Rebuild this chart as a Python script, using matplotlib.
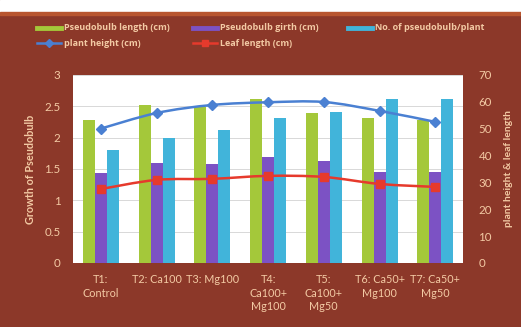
import matplotlib
matplotlib.use("Agg")
import matplotlib.pyplot as plt
import numpy as np
from matplotlib.lines import Line2D
from matplotlib.path import Path
from matplotlib.patches import PathPatch

treatments = ["T1:\nControl", "T2: Ca100", "T3: Mg100", "T4:\nCa100+\nMg100",
              "T5:\nCa100+\nMg50", "T6: Ca50+\nMg100", "T7: Ca50+\nMg50"]
pb_length = [2.28, 2.52, 2.48, 2.62, 2.39, 2.31, 2.28]
pb_girth = [1.43, 1.60, 1.58, 1.69, 1.63, 1.45, 1.45]
pb_number = [1.80, 2.00, 2.12, 2.31, 2.41, 2.62, 2.62]
plant_height = [50.0, 55.8, 58.8, 59.8, 59.9, 56.6, 52.5]
leaf_length = [27.5, 30.9, 31.3, 32.4, 32.0, 29.4, 28.3]

BG = "#8c3829"
TXT = "#f3caa4"
GREEN = "#a4c83a"
PURPLE = "#7c52c4"
CYAN = "#41b4da"
BLUE = "#4a80d2"
RED = "#e63a2c"

W, H = 521, 327
plt.rcParams["font.family"] = ["Lato", "DejaVu Sans"]


def smooth_path(xs, ys):
    # Catmull-Rom style bezier through the points (like a smoothed Excel line)
    pts = np.column_stack([xs, ys]).astype(float)
    ext = np.vstack([pts[0], pts, pts[-1]])
    verts = [pts[0]]
    codes = [Path.MOVETO]
    for i in range(len(pts) - 1):
        p0, p1, p2, p3 = ext[i], ext[i + 1], ext[i + 2], ext[i + 3]
        verts += [p1 + (p2 - p0) / 6, p2 - (p3 - p1) / 6, p2]
        codes += [Path.CURVE4] * 3
    return Path(verts, codes)


fig = plt.figure(figsize=(W / 100, H / 100), dpi=100)
fig.patch.set_facecolor(BG)

# white strip above the chart frame
fig.add_artist(plt.Rectangle((0, 1 - 12 / H), 1, 12 / H,
                             transform=fig.transFigure, color="white", zorder=0))
fig.add_artist(plt.Rectangle((0, 1 - 15 / H), 1, 3 / H,
                             transform=fig.transFigure, color="#b8552f", zorder=0))

ax = fig.add_axes([0.140, 0.196, 0.749, 0.575])
ax.set_facecolor("white")
x = np.arange(len(treatments))
w = 0.215
ax.bar(x - w, pb_length, w, color=GREEN, zorder=2)
ax.bar(x, pb_girth, w, color=PURPLE, zorder=2)
ax.bar(x + w, pb_number, w, color=CYAN, zorder=2)
ax.set_xlim(-0.5, len(treatments) - 0.5)
ax.set_ylim(0, 3)
ax.set_yticks(np.arange(0, 3.01, 0.5))
ax.set_yticklabels(["0", "0.5", "1", "1.5", "2", "2.5", "3"])
ax.yaxis.grid(True, color="#d8d8d8", lw=0.7, zorder=0)
ax.set_xticks(x)
ax.set_xticklabels(treatments, fontsize=7.8, color=TXT, linespacing=1.3,
                   va="top")
ax.tick_params(axis="x", length=0, pad=8)
ax.tick_params(axis="y", length=0, colors=TXT, labelsize=8.3, pad=9)
for s in ax.spines.values():
    s.set_visible(False)
ax.set_ylabel("Growth of Pseudobulb", color=TXT, fontsize=7.8,
              fontweight="bold", labelpad=6)

ax2 = ax.twinx()
for vals, col, mk, ms in [(plant_height, BLUE, "D", 5),
                          (leaf_length, RED, "s", 5.5)]:
    ax2.add_patch(PathPatch(smooth_path(x, vals), fill=False, edgecolor=col,
                            lw=1.8, zorder=3))
    ax2.plot(x, vals, ls="none", color=col, marker=mk, ms=ms, zorder=4)
ax2.set_ylim(0, 70)
ax2.set_yticks(np.arange(0, 71, 10))
ax2.tick_params(axis="y", length=0, colors=TXT, labelsize=8.3, pad=11)
for s in ax2.spines.values():
    s.set_visible(False)
ax2.set_ylabel("plant height & leaf length", color=TXT, fontsize=7.5,
               fontweight="bold", labelpad=9)

# legend laid out on a fixed grid: three equal-width columns, two rows
legend_items = [
    ("Pseudobulb length (cm)", dict(color=GREEN, lw=3.5), 0, 0),
    ("Pseudobulb girth (cm)", dict(color=PURPLE, lw=3.5), 1, 0),
    ("No. of pseudobulb/plant", dict(color=CYAN, lw=3.5), 2, 0),
    ("plant height (cm)", dict(color=BLUE, lw=1.8, marker="D", ms=4,
                               markevery=[1]), 0, 1),
    ("Leaf length (cm)", dict(color=RED, lw=1.8, marker="s", ms=4,
                              markevery=[1]), 1, 1),
]
col_x = [37, 193, 348]
row_y = [28, 43]
for label, style, c, r in legend_items:
    x0 = col_x[c]
    y0 = 1 - row_y[r] / H
    fig.add_artist(Line2D([x0 / W, (x0 + 12) / W, (x0 + 24) / W],
                          [y0, y0, y0], transform=fig.transFigure, **style))
    fig.text((x0 + 27) / W, y0, label, color=TXT, fontsize=6.5,
             fontweight="bold", family=["Open Sans", "DejaVu Sans"],
             va="center", ha="left")

fig.savefig("out.png", dpi=100, facecolor=fig.get_facecolor())
